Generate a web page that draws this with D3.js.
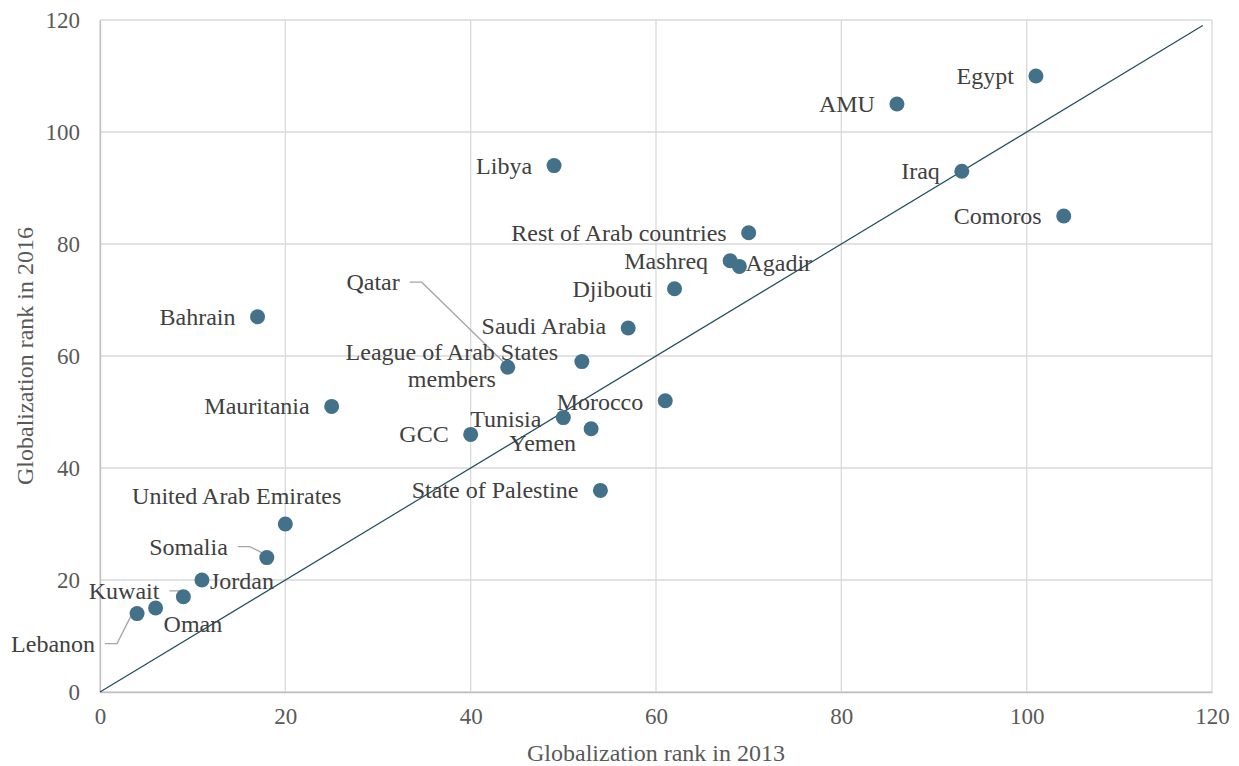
<!DOCTYPE html>
<html>
<head>
<meta charset="utf-8">
<script src="https://cdn.jsdelivr.net/npm/d3@7"></script>
<style>
	body { margin: 0; background: #fff; }
	text { font-family: "Liberation Serif", "Times New Roman", serif; }
</style>
</head>
<body>
<svg id="chart" width="1239" height="766"></svg>
<script>
// data
var names = ["Egypt", "AMU", "Libya", "Iraq", "Comoros", "Rest of Arab countries", "Mashreq", "Agadir",
	"Djibouti", "Bahrain", "Saudi Arabia", "League of Arab States members", "Qatar", "Mauritania",
	"Morocco", "Tunisia", "Yemen", "GCC", "State of Palestine", "United Arab Emirates", "Somalia",
	"Jordan", "Kuwait", "Oman", "Lebanon"];
var rank2013 = [101, 86, 49, 93, 104, 70, 68, 69, 62, 17, 57, 52, 44, 25, 61, 50, 53, 40, 54, 20, 18, 11, 9, 6, 4];
var rank2016 = [110, 105, 94, 93, 85, 82, 77, 76, 72, 67, 65, 59, 58, 51, 52, 49, 47, 46, 36, 30, 24, 20, 17, 15, 14];
var xTicks = [0, 20, 40, 60, 80, 100, 120];
var yTicks = [0, 20, 40, 60, 80, 100, 120];
var diagonal = [0, 119];

// label placement: [dx, dy, anchor, leader?]
var labelPos = {
	"Egypt": [-22, 8, "end"],
	"AMU": [-22, 8, "end"],
	"Libya": [-22, 8, "end"],
	"Iraq": [-22, 8, "end"],
	"Comoros": [-22, 8, "end"],
	"Rest of Arab countries": [-22, 8, "end"],
	"Mashreq": [-22, 8, "end"],
	"Agadir": [6, 5, "start"],
	"Djibouti": [-22, 8, "end"],
	"Bahrain": [-22, 8, "end"],
	"Saudi Arabia": [-22, 6, "end"],
	"League of Arab States members": [-130, -2, "middle"],
	"Qatar": [-108, -77, "end", true],
	"Mauritania": [-22, 8, "end"],
	"Morocco": [-22, 9, "end"],
	"Tunisia": [-22, 9, "end"],
	"Yemen": [-15, 22, "end"],
	"GCC": [-22, 8, "end"],
	"State of Palestine": [-22, 8, "end"],
	"United Arab Emirates": [56, -20, "end"],
	"Somalia": [-39, -3, "end", true],
	"Jordan": [8, 9, "start"],
	"Kuwait": [-24, 2, "end", true],
	"Oman": [8, 24, "start"],
	"Lebanon": [-42, 38, "end", true]
};

var svg = d3.select("#chart");
var margin = {left: 100, top: 20, right: 27, bottom: 74};
var W = 1239, H = 766;

var x = d3.scaleLinear().domain([0, 120]).range([margin.left, W - margin.right]);
var y = d3.scaleLinear().domain([0, 120]).range([H - margin.bottom, margin.top]);

// grid
svg.append("g").selectAll("line.gx").data(xTicks).enter().append("line")
	.attr("x1", function(d){ return x(d); }).attr("x2", function(d){ return x(d); })
	.attr("y1", y(0)).attr("y2", y(120))
	.style("stroke", "#d9d9d9").style("stroke-width", 1.3);
svg.append("g").selectAll("line.gy").data(yTicks).enter().append("line")
	.attr("x1", x(0)).attr("x2", x(120))
	.attr("y1", function(d){ return y(d); }).attr("y2", function(d){ return y(d); })
	.style("stroke", "#d9d9d9").style("stroke-width", 1.3);

// axes
var xAxis = svg.append("g").attr("transform", "translate(0," + y(0) + ")")
	.call(d3.axisBottom(x).tickValues(xTicks).tickSize(0).tickPadding(16));
var yAxis = svg.append("g").attr("transform", "translate(" + x(0) + ",0)")
	.call(d3.axisLeft(y).tickValues(yTicks).tickSize(0).tickPadding(20));
[xAxis, yAxis].forEach(function(a){
	a.attr("font-family", null);
	a.select(".domain").style("stroke", "#bfbfbf").style("stroke-width", 1.3);
	a.selectAll("text").style("font-family", "Liberation Serif, serif")
		.style("font-size", "23px").style("fill", "#595959");
});

svg.append("text").attr("x", (x(0) + x(120)) / 2).attr("y", 761)
	.attr("text-anchor", "middle").style("font-size", "24px").style("fill", "#595959")
	.text("Globalization rank in 2013");
svg.append("text").attr("transform", "translate(33," + (y(60)) + ") rotate(-90)")
	.attr("text-anchor", "middle").style("font-size", "24px").style("fill", "#595959")
	.text("Globalization rank in 2016");

// diagonal reference line
svg.append("line")
	.attr("x1", x(diagonal[0])).attr("y1", y(diagonal[0]))
	.attr("x2", x(diagonal[1])).attr("y2", y(diagonal[1]))
	.style("stroke", "#1f4e5f").style("stroke-width", 1.2);

var pts = names.map(function(n, i){ return {name: n, a: rank2013[i], b: rank2016[i]}; });

// leader lines
pts.forEach(function(p){
	var lp = labelPos[p.name];
	if(!lp[3]) return;
	var px = x(p.a), py = y(p.b);
	var lx = px + lp[0] + 10, ly = py + lp[1] - 8;
	svg.append("polyline")
		.attr("points", [[lx, ly], [lx + 12, ly], [px - 3, py - 4]].map(function(q){ return q.join(","); }).join(" "))
		.style("fill", "none").style("stroke", "#a6a6a6").style("stroke-width", 1.3);
});

// points
svg.append("g").selectAll("circle").data(pts).enter().append("circle")
	.attr("cx", function(d){ return x(d.a); })
	.attr("cy", function(d){ return y(d.b); })
	.attr("r", 7.5)
	.style("fill", "#44718a");

// labels
pts.forEach(function(p){
	var lp = labelPos[p.name];
	var t = svg.append("text")
		.attr("x", x(p.a) + lp[0]).attr("y", y(p.b) + lp[1])
		.attr("text-anchor", lp[2])
		.style("font-size", "24px").style("fill", "#404040");
	if(p.name == "League of Arab States members"){
		t.append("tspan").attr("x", x(p.a) + lp[0]).attr("dy", 0).text("League of Arab States");
		t.append("tspan").attr("x", x(p.a) + lp[0]).attr("dy", 27).text("members");
	}
	else{
		t.text(p.name);
	}
});
</script>
</body>
</html>
